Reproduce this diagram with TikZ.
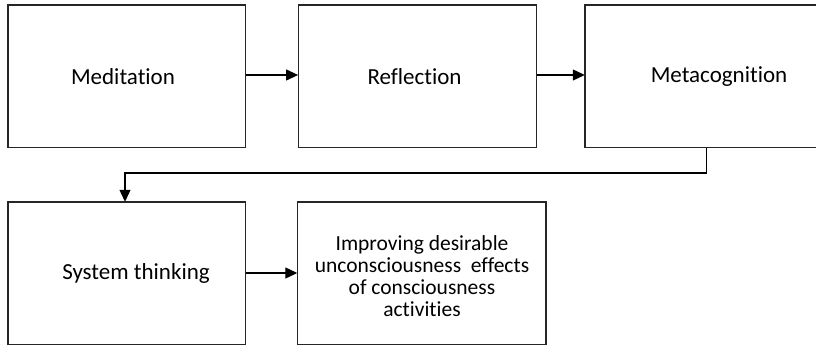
\documentclass[tikz,border=0pt]{standalone}
\usepackage{fontspec}
\setmainfont[Ligatures=NoCommon]{Carlito}
\usetikzlibrary{arrows.meta}
\begin{document}
\begin{tikzpicture}[x=1pt,y=1pt,
  boxline/.style={draw=black!85, line width=1.2pt},
  conn/.style={draw=black, line width=1.1pt, -{Triangle[length=12pt,width=11pt]}},
  lbl/.style={inner sep=0pt, font=\fontsize{23}{25}\selectfont},
  anc/.style={inner sep=0pt, minimum size=0pt}
]
\useasboundingbox (0,0) rectangle (816,346);
\clip (0,0) rectangle (816,346);
% boxes (tikz y = 346 - pixel y)
\coordinate (b1sw) at (8,198.5);     \coordinate (b1ne) at (245.5,341);
\coordinate (b2sw) at (298.3,198.5); \coordinate (b2ne) at (536.7,341);
\coordinate (b3sw) at (585,198.5);   \coordinate (b3ne) at (853,341);
\coordinate (b4sw) at (8,1.2);       \coordinate (b4ne) at (245.5,144);
\coordinate (b5sw) at (297.5,1.2);   \coordinate (b5ne) at (546,144);
\draw[boxline] (b1sw) rectangle (b1ne);
\draw[boxline] (b2sw) rectangle (b2ne);
\draw[boxline] (b3sw) rectangle (b3ne);
\draw[boxline] (b4sw) rectangle (b4ne);
\draw[boxline] (b5sw) rectangle (b5ne);
% anchor nodes for connectors
\node[anc] (m1) at (245.5,271) {};
\node[anc] (r1) at (298.3,271) {};
\node[anc] (r2) at (536.7,271) {};
\node[anc] (c1) at (585,271) {};
\node[anc] (c2) at (706.7,198.5) {};
\node[anc] (s1) at (125,144) {};
\node[anc] (s2) at (245.5,73) {};
\node[anc] (i1) at (297.5,73) {};
\coordinate (bendA) at (706.7,173);
\coordinate (bendB) at (125,173);
% labels
\node[lbl] (med) at (123,269) {Meditation};
\node[lbl] (ref) at (414.5,269) {Reflection};
\node[lbl] (meta) at (719,269) {Metacognition};
\node[lbl] (sys) at (136,73) {System thinking};
\node[inner sep=0pt, align=center, font=\fontsize{21.5}{22}\selectfont] (imp) at (422,70.3)
  {Improving desirable\\unconsciousness\ \ effects\\of consciousness\\activities};
% connectors
\draw[conn] (m1) -- (r1);
\draw[conn] (r2) -- (c1);
\draw[conn] (c2) -- (bendA) -- (bendB) -- (s1);
\draw[conn] (s2) -- (i1);
\end{tikzpicture}
\end{document}
